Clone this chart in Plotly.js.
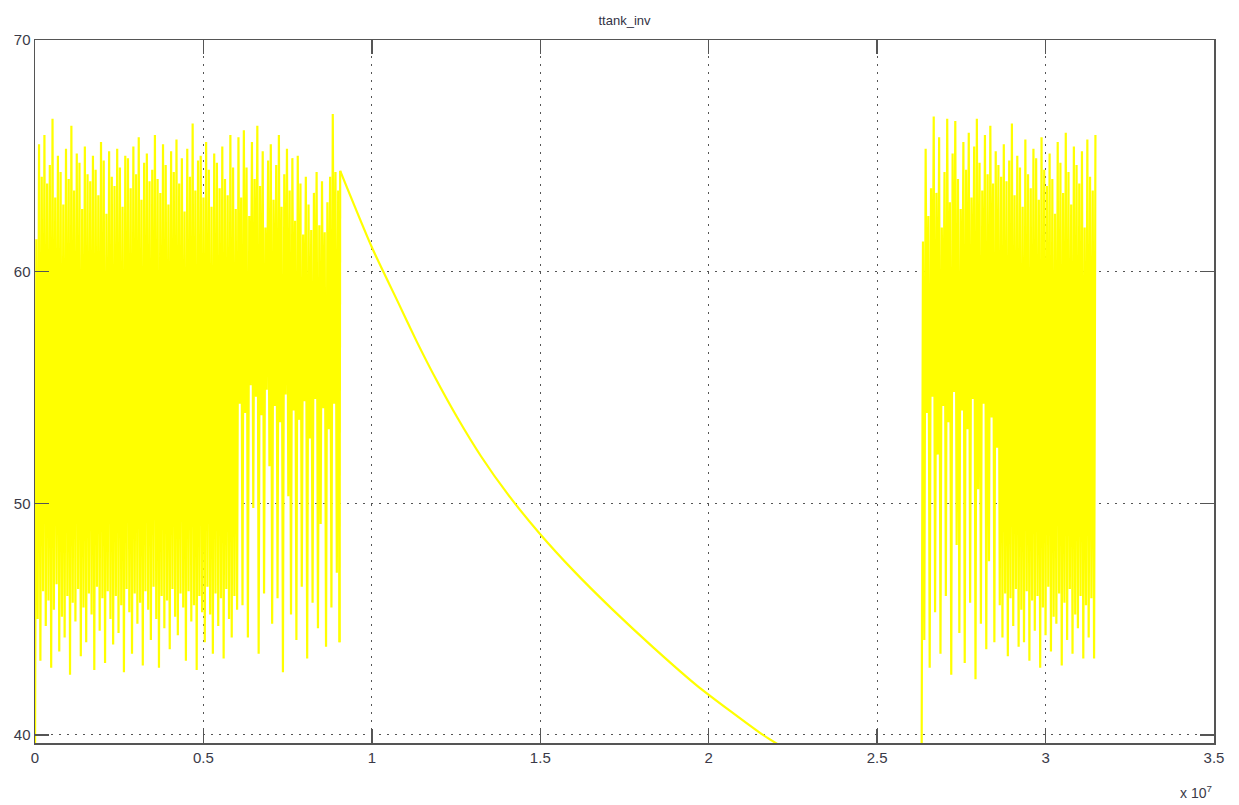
<!DOCTYPE html>
<html>
<head>
<meta charset="utf-8">
<script src="https://cdn.plot.ly/plotly-3.0.1.min.js"></script>
<style>
  html, body { margin: 0; padding: 0; background: #ffffff; }
  #chart { width: 1239px; height: 805px; }
</style>
</head>
<body>
<div id="chart"></div>
<script>
// ---- data (time in seconds, temperature values) ----
const chartTitle = "ttank_inv";

// first oscillating block: uniform sampling from t0 with step dt
const block1Start = 0;
const block1Step = 0.004e7;
const block1Values = [
  38.5,
  61.4,45.0, 65.5,43.2, 64.1,46.2, 65.9,44.7, 63.8,45.8, 64.6,42.9, 66.6,45.4, 63.2,46.5, 65.0,43.6, 64.3,45.1,
  62.9,44.2, 65.3,46.0, 64.0,42.6, 66.3,45.7, 63.5,44.9, 65.1,46.3, 64.7,43.4, 62.7,45.5, 65.4,44.0, 64.2,46.1,
  63.9,45.2, 65.0,42.8, 64.4,46.4, 63.3,44.5, 65.6,45.9, 64.8,43.1, 62.5,46.2, 65.2,45.0, 64.1,43.9, 63.7,46.0,
  65.3,44.4, 64.5,45.6, 62.8,42.7, 65.0,46.3, 64.9,45.3, 63.6,43.5, 65.4,46.1, 64.2,44.8, 65.8,45.7, 63.1,43.0,
  64.7,46.2, 65.1,45.4, 63.9,44.1, 64.4,46.4, 65.9,45.0, 64.0,42.9, 63.4,46.0, 65.5,44.6, 64.6,45.8, 62.9,43.7,
  65.2,46.3, 64.3,45.1, 65.7,44.3, 63.8,46.1, 64.9,45.5, 62.6,43.2, 65.3,46.2, 64.1,44.9, 66.4,45.6, 63.5,42.8,
  64.8,46.0, 65.0,45.3, 63.2,44.0, 65.6,46.4, 64.4,45.2, 62.8,43.5, 65.1,46.1, 64.7,44.7, 63.6,45.9, 65.4,43.3,
  64.0,46.3, 63.3,45.0, 65.9,44.2, 64.5,46.0, 62.7,45.4,
  65.8,54.3, 63.2,45.6, 66.1,53.9, 64.5,44.2, 62.4,55.1, 65.6,49.8, 64.0,54.6, 66.3,43.5, 63.7,53.8, 65.2,46.1,
  61.9,54.9, 64.8,51.6, 65.5,44.8, 63.1,54.2, 64.6,45.9, 65.9,53.5, 62.8,42.7, 64.2,54.7, 65.3,50.3, 63.5,45.2,
  64.9,54.0, 62.2,44.1, 65.0,53.6, 63.8,46.4, 61.6,54.4, 64.1,43.3, 62.9,52.8, 61.8,45.7, 63.4,54.5, 64.3,44.6,
  62.0,49.1, 63.9,54.1, 61.7,43.8, 63.0,53.2, 64.1,45.5, 66.8,54.3, 64.3,47.0, 63.5,44.0
];

// cooling curve between the two blocks
const decayTime = [0.906e7, 1.0e7, 1.079e7, 1.133e7, 1.191e7, 1.254e7, 1.324e7, 1.404e7,
                   1.496e7, 1.600e7, 1.714e7, 1.836e7, 1.966e7, 2.161e7, 2.25e7];
const decayValues = [64.35, 61.05, 58.64, 56.99, 55.34, 53.69, 52.03, 50.38,
                     48.73, 47.07, 45.42, 43.77, 42.12, 40.0, 39.2];

// second oscillating block
const block2Start = 2.632e7;
const block2Step = 0.004e7;
const block2Values = [
  38.5, 61.3,
  44.1,65.3, 53.9,62.4, 42.9,63.6, 54.6,66.7, 45.3,63.4, 52.1,65.8, 43.5,61.9, 54.2,64.3, 46.0,66.6, 53.5,63.0,
  42.6,65.1, 54.8,66.5, 48.2,64.0, 44.4,62.7, 54.0,65.6, 43.1,64.4, 53.2,66.0, 45.7,63.2, 54.5,65.4, 42.4,66.6,
  50.6,64.7, 44.8,63.5, 54.3,65.9, 43.7,64.2, 47.5,66.3, 53.7,63.8, 44.0,65.2, 52.4,64.6,
  45.6,64.1, 44.2,65.5, 46.1,63.9, 43.4,64.8, 45.9,66.4, 44.7,63.3, 46.3,65.0, 43.8,64.5, 45.4,62.8, 44.0,65.7,
  46.2,64.2, 43.2,63.6, 45.8,65.3, 44.5,64.9, 46.0,63.1, 42.9,65.8, 45.5,64.4, 44.3,63.7, 46.4,65.1, 43.6,64.0,
  45.1,62.5, 44.8,65.6, 46.1,64.7, 43.0,63.4, 45.7,66.0, 44.1,64.3, 46.3,62.9, 43.5,65.4, 45.2,64.6, 44.6,63.8,
  46.0,65.2, 43.3,61.9, 45.6,65.7, 44.2,64.1, 45.9,63.5, 43.3,65.9
];

// axis ticks
const xTickVals = [0, 0.5e7, 1e7, 1.5e7, 2e7, 2.5e7, 3e7, 3.5e7];
const xTickText = ["0", "0.5", "1", "1.5", "2", "2.5", "3", "3.5"];
const yTickVals = [40, 50, 60, 70];
const yTickText = ["40", "50", "60", "70"];
const xExponentText = "x 10<sup>7</sup>";

// ---- drawing ----
const yellow = "#ffff00";
const block1LastX = block1Start + block1Step * (block1Values.length - 1);
const block1LastY = block1Values[block1Values.length - 1];

const traces = [
  { type: "scatter", mode: "lines", x0: block1Start, dx: block1Step, y: block1Values,
    line: { color: yellow, width: 2.2 }, hoverinfo: "skip", showlegend: false },
  // jump from the last sample of block 1 into the cooling curve
  { type: "scatter", mode: "lines", x: [block1LastX, decayTime[0]], y: [block1LastY, decayValues[0]],
    line: { color: yellow, width: 2.2 }, hoverinfo: "skip", showlegend: false },
  { type: "scatter", mode: "lines", x: decayTime, y: decayValues,
    line: { color: yellow, width: 2.2, shape: "spline", smoothing: 0.6 }, hoverinfo: "skip", showlegend: false },
  { type: "scatter", mode: "lines", x0: block2Start, dx: block2Step, y: block2Values,
    line: { color: yellow, width: 2.2 }, hoverinfo: "skip", showlegend: false }
];

const axisCommon = {
  showline: true, linecolor: "#555555", linewidth: 1.5, mirror: "ticks",
  ticks: "inside", ticklen: 14, tickwidth: 1.5, tickcolor: "#555555",
  showgrid: true, gridcolor: "#555555", gridwidth: 1.2, griddash: "2px,6px",
  zeroline: false, tickmode: "array",
  tickfont: { family: "Liberation Sans, Arial, sans-serif", size: 15, color: "#3a3a48" }
};

const layout = {
  width: 1239, height: 805,
  paper_bgcolor: "#ffffff", plot_bgcolor: "#ffffff",
  margin: { l: 35, r: 25, t: 40, b: 62 },
  title: { text: chartTitle, x: 0.5, xref: "paper", xanchor: "center",
           y: 1 - 20 / 805, yref: "container", yanchor: "middle",
           font: { family: "Liberation Sans, Arial, sans-serif", size: 13, color: "#333344" } },
  xaxis: Object.assign({}, axisCommon, { range: [0, 3.5e7], tickvals: xTickVals, ticktext: xTickText }),
  yaxis: Object.assign({}, axisCommon, { range: [39.65, 70], tickvals: yTickVals, ticktext: yTickText }),
  annotations: [{
    text: xExponentText, xref: "paper", yref: "paper", x: 1, y: -0.07,
    xanchor: "right", yanchor: "middle", showarrow: false,
    font: { family: "Liberation Sans, Arial, sans-serif", size: 14, color: "#3a3a48" }
  }],
  hovermode: false
};

Plotly.newPlot("chart", traces, layout, { displayModeBar: false, staticPlot: true });
</script>
</body>
</html>
